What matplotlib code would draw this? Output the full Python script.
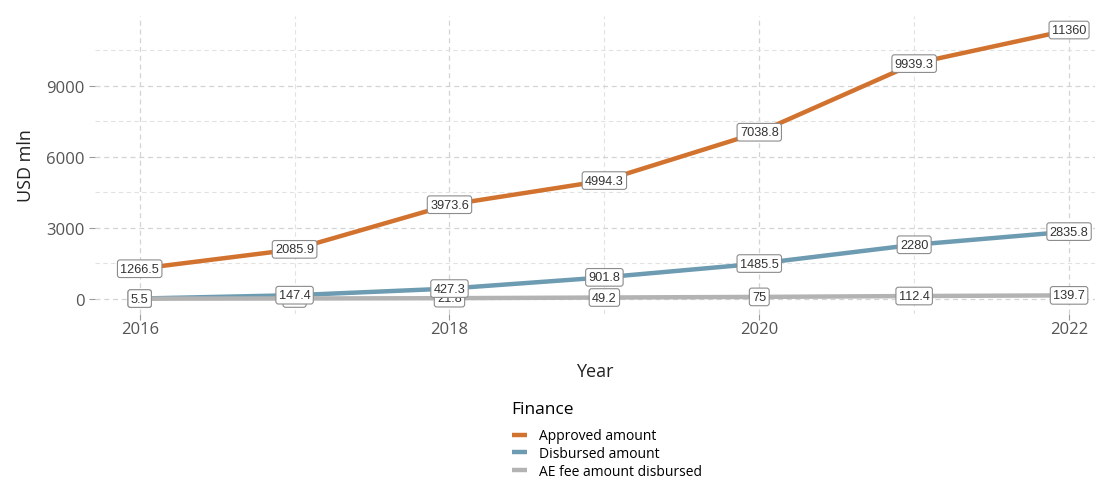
import numpy as np
import matplotlib.pyplot as plt
from matplotlib.ticker import MultipleLocator

plt.rcParams['font.family'] = ['Open Sans', 'DejaVu Sans']

years = [2016, 2017, 2018, 2019, 2020, 2021, 2022]
approved = [1266.5, 2085.9, 3973.6, 4994.3, 7038.8, 9939.3, 11360]
disbursed = [5.5, 147.4, 427.3, 901.8, 1485.5, 2280, 2835.8]
ae_fee = [0.9, 8.6, 21.8, 49.2, 75, 112.4, 139.7]

series = [
    ("Approved amount", approved, "#d2722f"),
    ("Disbursed amount", disbursed, "#6d9bb2"),
    ("AE fee amount disbursed", ae_fee, "#b3b3b3"),
]

fig = plt.figure(figsize=(11.02, 4.81), dpi=100)
ax = fig.add_axes([0.086, 0.345, 0.908, 0.62])

# lines
for i, (name, vals, col) in enumerate(series):
    ax.plot(years, vals, color=col, lw=3.2, label=name, zorder=3 + i,
            solid_capstyle="butt")

# value labels (AE fee underneath, then approved, then disbursed on top)
label_font = ['Liberation Sans Narrow', 'Liberation Sans', 'DejaVu Sans']
for z, idx in [(10, 2), (11, 0), (12, 1)]:
    name, vals, col = series[idx]
    for x, v in zip(years, vals):
        txt = f"{v:g}"
        ax.text(x, v, txt, ha="center", va="center", fontsize=9.2,
                family=label_font, color="#333333", zorder=z,
                bbox=dict(boxstyle="round,pad=0.22,rounding_size=0.2",
                          fc="white", ec="#8c8c8c", lw=0.8))

ax.set_xlim(2015.71, 2022.17)
ax.set_ylim(-650, 11960)
ax.set_xticks([2016, 2018, 2020, 2022])
ax.set_yticks([0, 3000, 6000, 9000])
ax.xaxis.set_minor_locator(MultipleLocator(1))
ax.yaxis.set_minor_locator(MultipleLocator(1500))

ax.grid(which="major", color="#d4d4d4", ls=(0, (4, 3)), lw=0.9)
ax.grid(which="minor", color="#e2e2e2", ls=(0, (4, 3)), lw=0.8)
ax.tick_params(axis="both", which="major", colors="#9a9a9a", length=4,
               labelcolor="#555555", labelsize=12)
ax.tick_params(axis="x", which="major", pad=1)
ax.tick_params(axis="both", which="minor", length=0)
for s in ax.spines.values():
    s.set_visible(False)

ax.set_xlabel("Year", fontsize=13, color="#222222", labelpad=18)
ax.set_ylabel("USD mln", fontsize=13, color="#222222", labelpad=8)

handles, labels = ax.get_legend_handles_labels()
leg = fig.legend(handles, labels, title="Finance", loc="upper left",
                 bbox_to_anchor=(0.458, 0.178), frameon=False,
                 fontsize=10, title_fontsize=12.5, handlelength=1.1,
                 handletextpad=0.9, labelspacing=0.2, borderpad=0)
leg._legend_box.align = "left"
leg._legend_box.sep = 8
for line in leg.get_lines():
    line.set_linewidth(3.2)

fig.savefig("out.png", dpi=100)
